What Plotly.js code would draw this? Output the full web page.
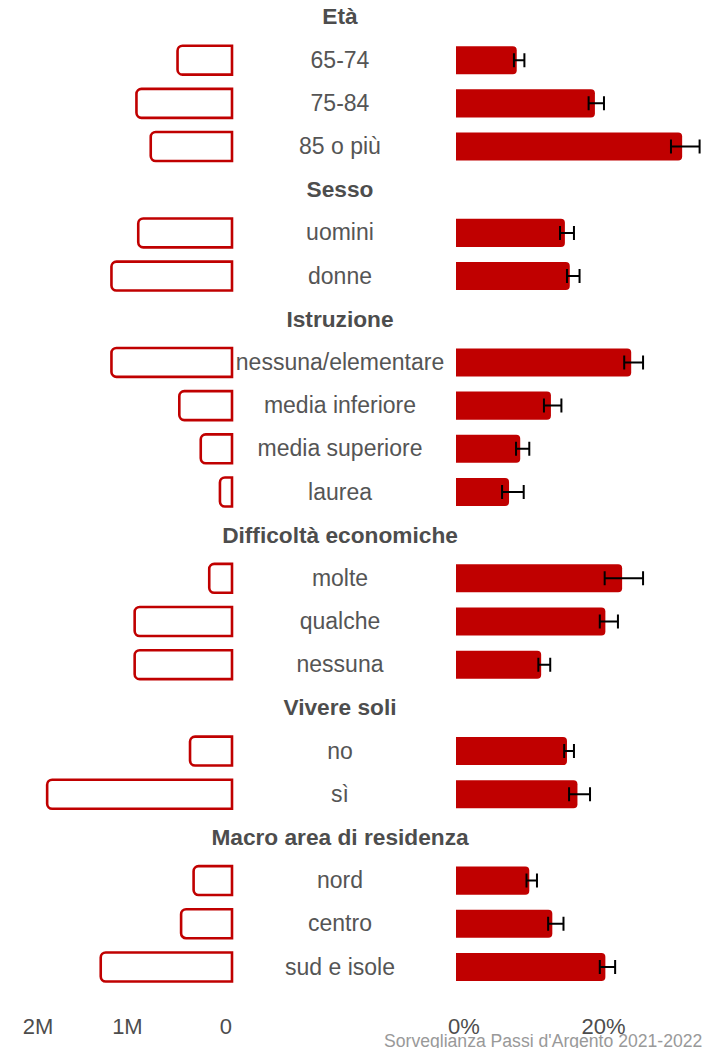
<!DOCTYPE html>
<html>
<head>
<meta charset="utf-8">
<script src="https://cdn.plot.ly/plotly-3.0.1.min.js"></script>
<style>html,body{margin:0;padding:0;background:#fff;}#chart{width:705px;height:1048px;}</style>
</head>
<body>
<div id="chart"></div>
<script>
// ---- data ----
const groupTitles = ['Età', 'Sesso', 'Istruzione', 'Difficoltà economiche', 'Vivere soli', 'Macro area di residenza'];
const groupSizes = [3, 2, 4, 3, 2, 3];
const categories = ['65-74', '75-84', '85 o più', 'uomini', 'donne',
  'nessuna/elementare', 'media inferiore', 'media superiore', 'laurea',
  'molte', 'qualche', 'nessuna', 'no', 'sì', 'nord', 'centro', 'sud e isole'];
// people (millions) - left panel
const popMillions = [0.61, 1.07, 0.91, 1.05, 1.35, 1.35, 0.59, 0.35, 0.135, 0.255, 1.09, 1.09, 0.47, 2.07, 0.43, 0.57, 1.47];
// prevalence (%) - right panel, with confidence interval
const pct    = [8.7, 19.9, 32.4, 15.6, 16.3, 25.1, 13.6, 9.2, 7.6, 23.8, 21.4, 12.2, 15.9, 17.4, 10.5, 13.8, 21.4];
const ciLow  = [8.3, 19.0, 30.8, 14.9, 15.9, 24.1, 12.6, 8.6, 6.6, 21.3, 20.6, 11.8, 15.5, 16.2, 10.1, 13.2, 20.6];
const ciHigh = [9.8, 21.2, 34.9, 16.9, 17.7, 26.8, 15.1, 10.5, 9.7, 26.8, 23.2, 13.5, 16.9, 19.2, 11.6, 15.4, 22.8];
const leftTickVals = [0, 1e6, 2e6];
const leftTickText = ['0', '1M', '2M'];
const rightTickVals = [0, 20];
const rightTickText = ['0%', '20%'];
const caption = "Sorveglianza Passi d'Argento 2021-2022";

// ---- build row order (headers interleaved) ----
const rowOrder = [];
let k = 0;
groupTitles.forEach((t, gi) => {
  rowOrder.push(t);
  for (let j = 0; j < groupSizes[gi]; j++) rowOrder.push(categories[k++]);
});

const RED = '#C00000';
const FONT = 'Liberation Sans, Arial, sans-serif';

const traces = [
  {
    type: 'bar', orientation: 'h', xaxis: 'x', yaxis: 'y',
    x: popMillions.map(v => v * 1e6), y: categories,
    width: 0.67,
    marker: { color: 'rgba(255,255,255,0)', line: { color: RED, width: 2.6 }, cornerradius: 5 },
    hoverinfo: 'skip'
  },
  {
    type: 'bar', orientation: 'h', xaxis: 'x3', yaxis: 'y',
    x: pct, y: categories,
    width: 0.65,
    marker: { color: RED, line: { width: 0 }, cornerradius: 4 },
    error_x: {
      type: 'data', symmetric: false,
      array: pct.map((v, i) => ciHigh[i] - v),
      arrayminus: pct.map((v, i) => v - ciLow[i]),
      color: '#000', thickness: 2, width: 7
    },
    hoverinfo: 'skip'
  },
  {
    type: 'scatter', mode: 'text', xaxis: 'x2', yaxis: 'y2',
    x: categories.map(() => 0), y: categories, text: categories,
    textposition: 'middle center', cliponaxis: false,
    textfont: { family: FONT, size: 23, color: '#555555' },
    hoverinfo: 'skip'
  },
  {
    type: 'scatter', mode: 'text', xaxis: 'x2', yaxis: 'y2',
    x: groupTitles.map(() => 0), y: groupTitles, text: groupTitles,
    textposition: 'middle center', cliponaxis: false,
    textfont: { family: FONT, size: 22.7, color: '#4d4d4d', weight: 'bold' },
    hoverinfo: 'skip'
  }
];

const W = 705;
const pxPerM = 89.3, zeroLeft = 232, leftEnd = 236;
const pxPerPct = 6.98, zeroRight = 456;
const slot = 43.18, firstCenter = 17, plotBottom = 1011, textDrop = 1.8;

const layout = {
  width: 705, height: 1048,
  margin: { l: 0, r: 0, t: 0, b: 1048 - plotBottom, pad: 0 },
  paper_bgcolor: '#fff', plot_bgcolor: '#fff',
  showlegend: false, barmode: 'overlay',
  font: { family: FONT },
  xaxis: {
    domain: [0, leftEnd / W], anchor: 'y',
    range: [zeroLeft / pxPerM * 1e6, -(leftEnd - zeroLeft) / pxPerM * 1e6],
    tickvals: leftTickVals, ticktext: leftTickText,
    ticklabelposition: 'outside left',
    showgrid: false, zeroline: false, showline: false, ticks: '',
    tickfont: { family: FONT, size: 22, color: '#4d4d4d' }
  },
  xaxis2: {
    domain: [240 / W, 440 / W], anchor: 'y2', range: [-1, 1], visible: false
  },
  xaxis3: {
    domain: [zeroRight / W, 1], anchor: 'y',
    range: [0, (W - zeroRight) / pxPerPct],
    tickvals: rightTickVals, ticktext: rightTickText,
    ticklabelshift: 8,
    showgrid: false, zeroline: false, showline: false, ticks: '',
    tickfont: { family: FONT, size: 22, color: '#4d4d4d' }
  },
  yaxis: {
    type: 'category', categoryorder: 'array', categoryarray: rowOrder,
    range: [(plotBottom - firstCenter) / slot, -firstCenter / slot],
    showticklabels: false, showgrid: false, zeroline: false, showline: false, ticks: ''
  },
  yaxis2: {
    type: 'category', categoryorder: 'array', categoryarray: rowOrder, overlaying: 'y',
    range: [(plotBottom - firstCenter - textDrop) / slot, -(firstCenter + textDrop) / slot],
    showticklabels: false, showgrid: false, zeroline: false, showline: false, ticks: ''
  },
  annotations: [{
    text: caption, xref: 'paper', yref: 'paper', x: 704 / W, y: 0,
    xanchor: 'right', yanchor: 'middle', yshift: -30, showarrow: false,
    font: { family: FONT, size: 17.6, color: '#999999' }
  }]
};

Plotly.newPlot('chart', traces, layout, { staticPlot: true, displayModeBar: false });
</script>
</body>
</html>
